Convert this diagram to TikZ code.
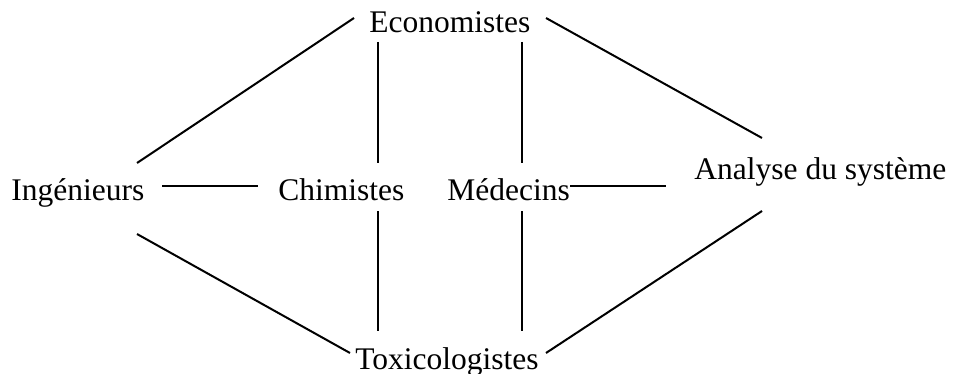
\documentclass[tikz,border=0pt]{standalone}
\usepackage{fontspec}
\setmainfont{Liberation Serif}
\begin{document}
\begin{tikzpicture}[x=0.5pt,y=-0.5pt,
  lbl/.style={inner sep=0pt, anchor=base west, font=\fontsize{15.75}{18}\selectfont},
  conn/.style={line width=1pt, black}]
\useasboundingbox (0,0) rectangle (953,374);
\node[lbl] (eco) at (369,33) {Economistes};
\node[lbl] (ing) at (11,200) {Ingénieurs};
\node[lbl] (chi) at (278,200) {Chimistes};
\node[lbl] (med) at (447,200) {Médecins};
\node[lbl] (ana) at (694,179) {Analyse du système};
\node[lbl] (tox) at (355,369) {Toxicologistes};
\draw[conn] ([shift={(126,-37)}]ing.base west) -- ([shift={(-15,-15)}]eco.base west);
\draw[conn] ([shift={(9,9)}]eco.base west) -- ([shift={(100,-37)}]chi.base west);
\draw[conn] ([shift={(153,9)}]eco.base west) -- ([shift={(75,-37)}]med.base west);
\draw[conn] ([shift={(177,-15)}]eco.base west) -- ([shift={(68,-41)}]ana.base west);
\draw[conn] ([shift={(151,-14)}]ing.base west) -- ([shift={(-20,-14)}]chi.base west);
\draw[conn] ([shift={(123,-14)}]med.base west) -- ([shift={(-28,7)}]ana.base west);
\draw[conn] ([shift={(126,34)}]ing.base west) -- ([shift={(-5,-16)}]tox.base west);
\draw[conn] ([shift={(100,11)}]chi.base west) -- ([shift={(23,-38)}]tox.base west);
\draw[conn] ([shift={(75,11)}]med.base west) -- ([shift={(167,-38)}]tox.base west);
\draw[conn] ([shift={(191,-16)}]tox.base west) -- ([shift={(68,32)}]ana.base west);
\end{tikzpicture}
\end{document}
